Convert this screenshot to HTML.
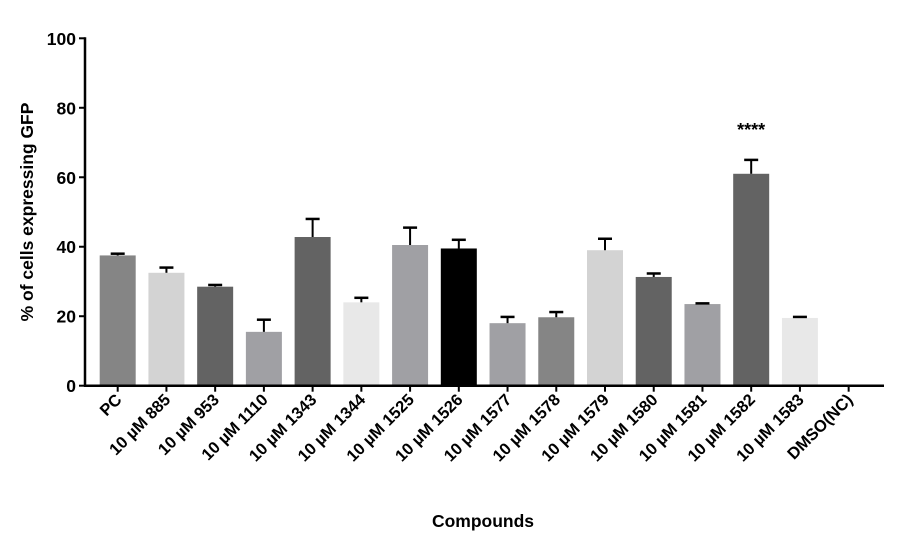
<!DOCTYPE html>
<html><head><meta charset="utf-8"><style>
body{margin:0;background:#fff}
svg text{font-family:"Liberation Sans",Arial,sans-serif;font-weight:bold;fill:#000}
</style></head><body>
<svg id="chart" width="897" height="543" viewBox="0 0 897 543"></svg>
<script>
const categories=["PC","10 µM 885","10 µM 953","10 µM 1110","10 µM 1343","10 µM 1344","10 µM 1525","10 µM 1526","10 µM 1577","10 µM 1578","10 µM 1579","10 µM 1580","10 µM 1581","10 µM 1582","10 µM 1583","DMSO(NC)"];
const values=[37.5,32.5,28.5,15.5,42.8,24,40.5,39.5,18,19.7,39,31.3,23.5,61,19.5,0];
const errors=[0.5,1.5,0.5,3.5,5.2,1.3,5,2.5,1.8,1.5,3.3,1,0.2,4,0.3,0];
const colors=["#858585","#d3d3d3","#636363","#a0a0a4","#636363","#e8e8e8","#a0a0a4","#000000","#a0a0a4","#858585","#d3d3d3","#636363","#a0a0a4","#636363","#e8e8e8","#ffffff"];
const yTicks=[0,20,40,60,80,100];
const annotations=[{index:13,text:"****"}];
const svg=document.getElementById('chart');
const NS="http://www.w3.org/2000/svg";
const y0=385.7,y100=38.3,xLeft=85,xRight=884,x0=117.7,step=48.73,bw=36;
const yScale=v=>y0-(y0-y100)*v/100;
const xScale=i=>x0+i*step;
function mk(tag,attrs,parent){const e=document.createElementNS(NS,tag);for(const k in attrs)e.setAttribute(k,attrs[k]);(parent||svg).appendChild(e);return e;}
values.forEach((v,i)=>{
 const g=mk('g',{});
 
 
 if(v>0){mk('rect',{x:xScale(i)-bw/2,y:yScale(v),width:bw,height:y0-yScale(v),fill:colors[i]},g);}
 if(errors[i]>0){
  const yt=yScale(v+errors[i]);
  mk('line',{x1:xScale(i),x2:xScale(i),y1:yScale(v),y2:yt,stroke:'#000','stroke-width':2},g);
  mk('line',{x1:xScale(i)-7,x2:xScale(i)+7,y1:yt,y2:yt,stroke:'#000','stroke-width':2.5},g);
 }
});
const ya=mk('line',{x1:xLeft,x2:xLeft,y1:y100-1,y2:y0+1,stroke:'#000','stroke-width':2.5});


const xa=mk('line',{x1:xLeft-1,x2:xRight,y1:y0,y2:y0,stroke:'#000','stroke-width':2.5});


yTicks.forEach(t=>{
 const y=yScale(t);
 mk('line',{x1:xLeft-6,x2:xLeft,y1:y,y2:y,stroke:'#000','stroke-width':2});
 const tx=mk('text',{x:xLeft-9,y:y+6.5,'text-anchor':'end','font-size':17.5});
 tx.textContent=t;
 
 
});
categories.forEach((c,i)=>{
 const x=xScale(i);
 mk('line',{x1:x,x2:x,y1:y0,y2:y0+6,stroke:'#000','stroke-width':2});
 const tx=mk('text',{x:x+5,y:y0+15,'text-anchor':'end','font-size':16.5,transform:`rotate(-45 ${x+5} ${y0+15})`});
 tx.textContent=c;
 
 
});
annotations.forEach(a=>{
 const tx=mk('text',{x:xScale(a.index),y:yScale(values[a.index]+errors[a.index])-24,'text-anchor':'middle','font-size':18,'font-weight':'normal'});
 tx.textContent=a.text;
 
 
});
const xt=mk('text',{x:483,y:527,'text-anchor':'middle','font-size':17.5});
xt.textContent='Compounds';


const yt=mk('text',{x:33,y:212,'text-anchor':'middle','font-size':17.5,transform:'rotate(-90 33 212)'});
yt.textContent='% of cells expressing GFP';


</script>
</body></html>
